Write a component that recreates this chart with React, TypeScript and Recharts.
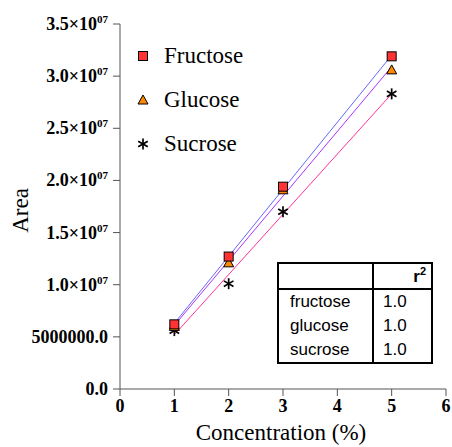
import React from "react";
import {
  ComposedChart,
  Scatter,
  Line,
  XAxis,
  YAxis,
} from "recharts";

const concentrations = [1, 2, 3, 5];
const fructose = [6.2e6, 12.7e6, 19.4e6, 31.9e6];
const glucose = [6.0e6, 12.1e6, 19.1e6, 30.6e6];
const sucrose = [5.6e6, 10.1e6, 17.0e6, 28.3e6];

// fitted lines, end points
const fitRange = [1, 5];
const fructoseFit = [6.3e6, 32.0e6];
const glucoseFit = [6.1e6, 30.9e6];
const sucroseFit = [5.2e6, 28.3e6];

const xTicks = [0, 1, 2, 3, 4, 5, 6];
const yTicks = [0, 5e6, 10e6, 15e6, 20e6, 25e6, 30e6, 35e6];

const r2Rows = [
  { name: "fructose", r2: "1.0" },
  { name: "glucose", r2: "1.0" },
  { name: "sucrose", r2: "1.0" },
];

const toPoints = (xs: number[], ys: number[]) => xs.map((x, i) => ({ x, y: ys[i] }));

const SERIF = "'Liberation Serif', 'Times New Roman', serif";
const SANS = "'Liberation Sans', Arial, sans-serif";
const AXIS = "#555";

const Square = ({ cx, cy }: any) => (
  <rect x={cx - 4.5} y={cy - 4.5} width={9} height={9} fill="#f33" stroke="#000" strokeWidth={1} />
);
const Triangle = ({ cx, cy }: any) => (
  <path d={`M${cx},${cy - 5} L${cx + 5},${cy + 4} L${cx - 5},${cy + 4} Z`} fill="#f80" stroke="#000" strokeWidth={1} />
);
const Asterisk = ({ cx, cy }: any) => (
  <g stroke="#000" strokeWidth={1.7}>
    <line x1={cx} y1={cy - 5.5} x2={cx} y2={cy + 5.5} />
    <line x1={cx - 4.8} y1={cy - 2.8} x2={cx + 4.8} y2={cy + 2.8} />
    <line x1={cx - 4.8} y1={cy + 2.8} x2={cx + 4.8} y2={cy - 2.8} />
  </g>
);

const legendItems = [
  { label: "Fructose", Marker: Square },
  { label: "Glucose", Marker: Triangle },
  { label: "Sucrose", Marker: Asterisk },
];

function YTick({ x, y, payload }: any) {
  const v = payload.value as number;
  const style = { fontFamily: SERIF, fontWeight: 700, fontSize: 18, fill: "#000" };
  if (v === 0 || v === 5e6) {
    return (
      <text x={x} y={y} dy={6} textAnchor="end" {...style}>
        {v === 0 ? "0.0" : "5000000.0"}
      </text>
    );
  }
  const m = (v / 1e7).toFixed(1);
  return (
    <text x={x} y={y} dy={6} textAnchor="end" {...style}>
      {`${m}×10`}
      <tspan fontSize={11} dy={-7}>07</tspan>
    </text>
  );
}

const XLabel = ({ viewBox }: any) => (
  <text x={viewBox.x + viewBox.width / 2 - 2} y={440} textAnchor="middle" fontFamily={SERIF} fontSize={23} fill="#000">
    Concentration (%)
  </text>
);

const YLabel = ({ viewBox }: any) => {
  const cy = viewBox.y + viewBox.height / 2 + 4;
  return (
    <text x={28} y={cy} transform={`rotate(-90 28 ${cy})`} textAnchor="middle" fontFamily={SERIF} fontSize={23} fill="#000">
      Area
    </text>
  );
};

export default function App() {
  return (
    <div style={{ position: "absolute", left: 0, top: 0, width: 452, height: 447, background: "#fff" }}>
      <ComposedChart width={452} height={447} margin={{ top: 24, right: 6, left: 0, bottom: 0 }}>
        <XAxis
          type="number"
          dataKey="x"
          domain={[0, 6]}
          ticks={xTicks}
          height={58}
          stroke={AXIS}
          tickSize={7}
          tickMargin={3}
          tick={{ fontFamily: SERIF, fontWeight: 700, fontSize: 18, fill: "#000" }}
          label={<XLabel />}
        />
        <YAxis
          type="number"
          dataKey="y"
          domain={[0, 35e6]}
          ticks={yTicks}
          width={120}
          stroke={AXIS}
          tickSize={7}
          tickMargin={5}
          tick={<YTick />}
          label={<YLabel />}
        />
        <Line data={toPoints(fitRange, fructoseFit)} dataKey="y" stroke="#66f" strokeWidth={1} dot={false} isAnimationActive={false} />
        <Line data={toPoints(fitRange, glucoseFit)} dataKey="y" stroke="#a3f" strokeWidth={1} dot={false} isAnimationActive={false} />
        <Line data={toPoints(fitRange, sucroseFit)} dataKey="y" stroke="#f39" strokeWidth={1} dot={false} isAnimationActive={false} />
        <Scatter data={toPoints(concentrations, sucrose)} dataKey="y" shape={<Asterisk />} isAnimationActive={false} />
        <Scatter data={toPoints(concentrations, glucose)} dataKey="y" shape={<Triangle />} isAnimationActive={false} />
        <Scatter data={toPoints(concentrations, fructose)} dataKey="y" shape={<Square />} isAnimationActive={false} />
      </ComposedChart>
      <div style={{ position: "absolute", left: 133, top: 34, fontFamily: SERIF, fontSize: 23, color: "#000" }}>
        {legendItems.map(({ label, Marker }) => (
          <div key={label} style={{ display: "flex", alignItems: "center", height: 44 }}>
            <svg width={20} height={20} style={{ marginRight: 11 }}>
              <Marker cx={10} cy={10} />
            </svg>
            <span>{label}</span>
          </div>
        ))}
      </div>
      <table
        style={{
          position: "absolute",
          left: 277,
          top: 262,
          width: 156,
          height: 102,
          borderCollapse: "collapse",
          border: "2px solid #000",
          fontFamily: SANS,
          fontSize: 17,
          color: "#000",
        }}
      >
        <thead>
          <tr style={{ borderBottom: "2px solid #000", height: 26 }}>
            <th style={{ borderRight: "2px solid #000", width: 91 }}></th>
            <th style={{ textAlign: "right", padding: "0 5px", fontWeight: 700 }}>
              r<sup style={{ fontSize: 11 }}>2</sup>
            </th>
          </tr>
        </thead>
        <tbody>
          {r2Rows.map((row) => (
            <tr key={row.name} style={{ lineHeight: "24px" }}>
              <td style={{ borderRight: "2px solid #000", padding: "0 0 0 11px" }}>{row.name}</td>
              <td style={{ padding: "0 0 0 9px" }}>{row.r2}</td>
            </tr>
          ))}
        </tbody>
      </table>
    </div>
  );
}
